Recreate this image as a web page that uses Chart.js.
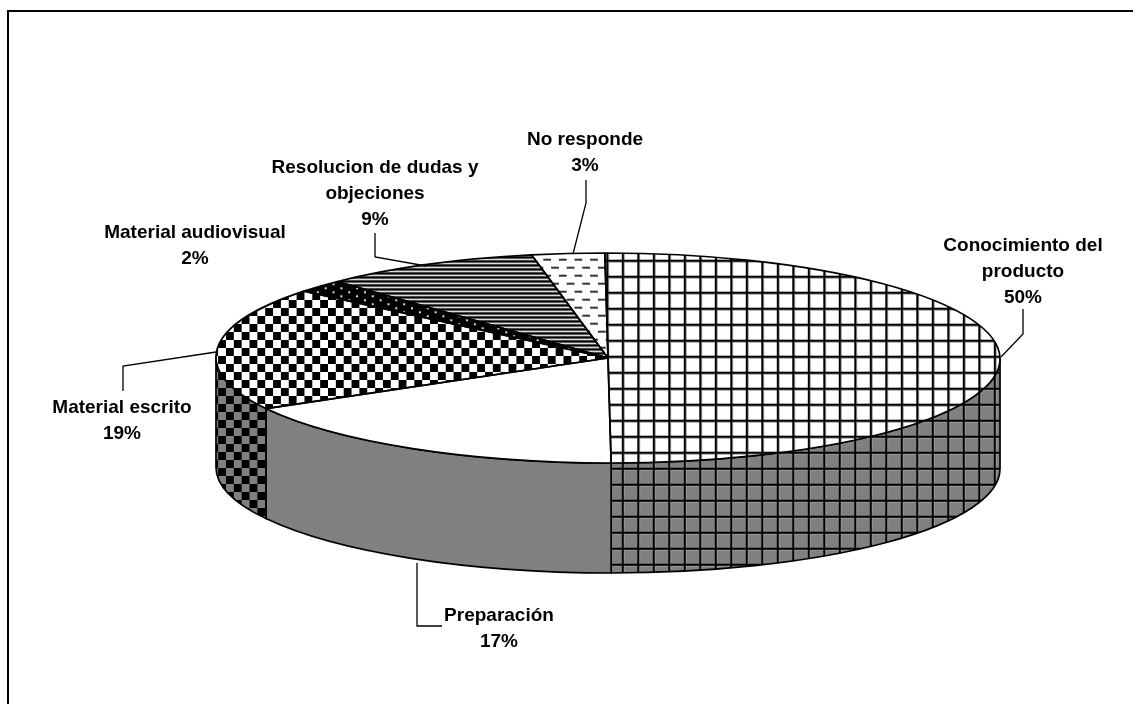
<!DOCTYPE html>
<html>
<head>
<meta charset="utf-8">
<title>Pastel</title>
<script src="https://cdn.jsdelivr.net/npm/chart.js"></script>
<style>
    html, body { margin: 0; padding: 0; background: #fff; }
    canvas { display: block; }
</style>
</head>
<body>
<canvas id="pieChart" width="1133" height="704"></canvas>
<script>
//#region Chart Data
const categories = [
    "Conocimiento del producto",
    "Preparación",
    "Material escrito",
    "Material audiovisual",
    "Resolucion de dudas y objeciones",
    "No responde"
];
const values = [50, 17, 19, 2, 9, 3];
const labelLines = [
    ["Conocimiento del", "producto"],
    ["Preparación"],
    ["Material escrito"],
    ["Material audiovisual"],
    ["Resolucion de dudas y", "objeciones"],
    ["No responde"]
];
const fillNames = ["grid", "plain", "checker", "dots", "stripes", "dashes"];
//#endregion

//#region Layout
const radiusX = 392;
const radiusY = 105;
const depth = 110;
const shear = 0.03;
const squash = radiusY / radiusX;
const labelLineHeight = 26;
const labelAnchors = [
    { x: 1023, y: 246 },
    { x: 499, y: 616 },
    { x: 122, y: 408 },
    { x: 195, y: 233 },
    { x: 375, y: 168 },
    { x: 585, y: 140 }
];
const leaderLines = [
    [[1023, 309], [1023, 334], [1001, 357]],
    [[417, 563], [417, 626], [442, 626]],
    [[123, 391], [123, 366], [216, 352]],
    [],
    [[375, 233], [375, 257], [426, 266]],
    [[586, 180], [586, 203], [573, 254]]
];
//#endregion

//#region Fill Patterns
const patternPainters = {
    grid(c) {
        c.fillStyle = "#999";
        c.fillRect(2, 0, 1, 16);
        c.fillRect(0, 2, 16, 1);
        c.fillStyle = "#000";
        c.fillRect(0, 0, 2, 16);
        c.fillRect(0, 0, 16, 2);
    },
    checker(c) {
        c.fillStyle = "#000";
        c.fillRect(0, 0, 8, 8);
        c.fillRect(8, 8, 8, 8);
    },
    dots(c) {
        c.fillStyle = "#000";
        c.fillRect(0, 0, 16, 8);
        c.fillStyle = "#e0e0e0";
        c.fillRect(2, 1, 2, 2);
        c.fillRect(10, 5, 2, 2);
    },
    stripes(c) {
        c.fillStyle = "#000";
        c.fillRect(0, 0, 16, 2);
        c.fillRect(0, 4, 16, 2);
        c.fillStyle = "#888";
        c.fillRect(0, 2, 16, 1);
        c.fillRect(0, 6, 16, 1);
    },
    dashes(c) {
        c.fillStyle = "#333";
        c.fillRect(0, 3, 8, 2);
        c.fillRect(8, 11, 8, 2);
    }
};

// tile scale and offset on the page
const patternPlacement = {
    grid: { size: [16, 16], scale: [15.5, 16], offset: [1.8, 3.7] },
    checker: { size: [16, 16], scale: [15.7, 16], offset: [14, 4] },
    dots: { size: [16, 8], scale: [15.7, 8], offset: [0.9, 2.3] },
    stripes: { size: [16, 8], scale: [16, 8], offset: [0, 0.3] },
    dashes: { size: [16, 16], scale: [15.6, 16], offset: [5.1, 7.7] }
};

function MakePattern(ctx, name, background) {
    const place = patternPlacement[name];
    const tile = document.createElement("canvas");
    tile.width = place.size[0];
    tile.height = place.size[1];
    const c = tile.getContext("2d");
    c.fillStyle = background;
    c.fillRect(0, 0, tile.width, tile.height);
    patternPainters[name](c);
    const pattern = ctx.createPattern(tile, "repeat");
    pattern.base = new DOMMatrix()
        .translate(place.offset[0], place.offset[1])
        .scale(place.scale[0] / place.size[0], place.scale[1] / place.size[1]);
    pattern.setTransform(pattern.base);
    return pattern;
}
//#endregion

//#region Tilt Helpers
function ApplyTilt(ctx, arc, drop) {
    ctx.translate(arc.x, arc.y + drop);
    ctx.transform(1, 0, shear * squash, squash, 0, 0);
    ctx.translate(-arc.x, -arc.y);
}

function WedgePath(ctx, arc) {
    ctx.save();
    ApplyTilt(ctx, arc, 0);
    ctx.beginPath();
    ctx.moveTo(arc.x, arc.y);
    ctx.arc(arc.x, arc.y, arc.outerRadius, arc.startAngle, arc.endAngle);
    ctx.closePath();
    ctx.restore();
}

function WallPath(ctx, arc, from, to) {
    ctx.beginPath();
    ctx.save();
    ApplyTilt(ctx, arc, 0);
    ctx.arc(arc.x, arc.y, arc.outerRadius, from, to);
    ctx.restore();
    ctx.save();
    ApplyTilt(ctx, arc, depth);
    ctx.arc(arc.x, arc.y, arc.outerRadius, to, from, true);
    ctx.restore();
    ctx.closePath();
}
//#endregion

//#region Pie Plugin
const tiltedPiePlugin = {
    id: "tiltedPie",
    beforeDraw(chart) {
        const ctx = chart.ctx;
        ctx.save();
        ctx.strokeStyle = "#000";
        ctx.lineWidth = 2;
        ctx.beginPath();
        ctx.moveTo(8, 704);
        ctx.lineTo(8, 11);
        ctx.lineTo(1133, 11);
        ctx.stroke();
        ctx.restore();
    },
    beforeDatasetsDraw(chart) {
        const ctx = chart.ctx;
        const arcs = chart.getDatasetMeta(0).data;

        // rim of the disc: only the part facing the viewer
        const rimStart = Math.atan(shear * radiusY / radiusX);
        const rimEnd = rimStart + Math.PI;
        ctx.save();
        ctx.strokeStyle = "#000";
        ctx.lineWidth = 1.7;
        ctx.lineJoin = "round";
        arcs.forEach((arc, i) => {
            const from = Math.max(arc.startAngle, rimStart);
            const to = Math.min(arc.endAngle, rimEnd);
            if (to <= from) return;
            WallPath(ctx, arc, from, to);
            ctx.fillStyle = chart.wallFills[i];
            ctx.fill();
            ctx.stroke();
        });
        ctx.restore();

        // library draws the slices inside this transform
        ctx.save();
        ApplyTilt(ctx, arcs[0], 0);
        const inverse = ctx.getTransform().inverse();
        chart.topFills.forEach((fill) => {
            if (fill.base) fill.setTransform(inverse.multiply(fill.base));
        });
    },
    afterDatasetsDraw(chart) {
        const ctx = chart.ctx;
        ctx.restore();

        const arcs = chart.getDatasetMeta(0).data;
        ctx.save();
        ctx.strokeStyle = "#000";
        ctx.lineWidth = 1.7;
        ctx.lineJoin = "round";
        arcs.forEach((arc) => {
            WedgePath(ctx, arc);
            ctx.stroke();
        });
        ctx.restore();
    },
    afterDraw(chart) {
        const ctx = chart.ctx;
        ctx.save();

        ctx.strokeStyle = "#000";
        ctx.lineWidth = 1.3;
        leaderLines.forEach((points) => {
            if (!points.length) return;
            ctx.beginPath();
            points.forEach((p, i) => {
                if (i === 0) ctx.moveTo(p[0], p[1]);
                else ctx.lineTo(p[0], p[1]);
            });
            ctx.stroke();
        });

        ctx.fillStyle = "#000";
        ctx.font = "bold 19px 'Liberation Sans', Arial, sans-serif";
        ctx.textAlign = "center";
        ctx.textBaseline = "middle";
        labelLines.forEach((lines, i) => {
            const anchor = labelAnchors[i];
            lines.concat(values[i] + "%").forEach((text, row) => {
                ctx.fillText(text, anchor.x, anchor.y + row * labelLineHeight);
            });
        });
        ctx.restore();
    }
};
//#endregion

//#region Load Pie Chart
function LoadPieChart() {
    const element = document.querySelector("#pieChart");
    const ctx = element.getContext("2d");

    const topFills = fillNames.map((name) =>
        name === "plain" ? "#ffffff" : MakePattern(ctx, name, "#ffffff"));
    const wallFills = fillNames.map((name) =>
        name === "plain" ? "#808080" : MakePattern(ctx, name, "#808080"));

    const chart = new Chart(element, {
        type: "pie",
        data: {
            labels: categories,
            datasets: [{
                data: values,
                backgroundColor: topFills,
                borderWidth: 0,
                radius: radiusX,
                clip: false
            }]
        },
        options: {
            responsive: false,
            animation: false,
            events: [],
            layout: {
                padding: { left: 83, top: 12, right: 0, bottom: 0 }
            },
            plugins: {
                legend: { display: false },
                tooltip: { enabled: false }
            }
        },
        plugins: [{
            id: "fillStore",
            beforeInit(c) {
                c.topFills = topFills;
                c.wallFills = wallFills;
            }
        }, tiltedPiePlugin]
    });
    return chart;
}
//#endregion

//#region On Document Load
window.addEventListener("DOMContentLoaded", () => {
    LoadPieChart();
});
//#endregion
</script>
</body>
</html>
